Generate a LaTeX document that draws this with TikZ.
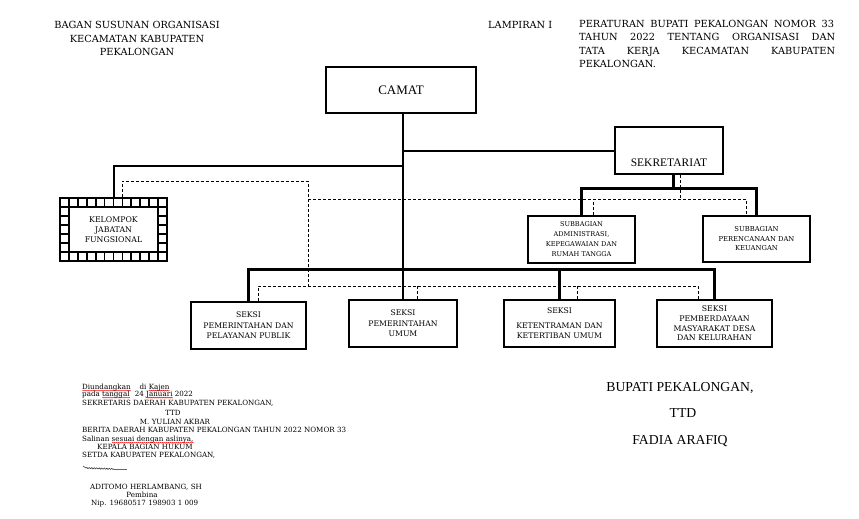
\documentclass[tikz,border=0pt]{standalone}
\usepackage{fontspec}
\setmainfont{Liberation Serif}
\newfontfamily\bk{DejaVu Serif}
\usetikzlibrary{decorations.pathmorphing}
\newcommand\smtxt{\bk\fontsize{7.15}{8}\selectfont}
\newcommand\hdtxt{\bk\fontsize{9.8}{13.5}\selectfont}
\newlength\sqlen
\newcommand\sqw[1]{\settowidth\sqlen{#1}\rlap{\raisebox{-0.3pt}{\tikz[baseline=0pt]\draw[red, line width=0.45pt, decorate, decoration={snake, amplitude=0.5pt, segment length=2pt}] (0pt,-0.6pt) -- (\sqlen,-0.6pt);}}#1}
\begin{document}
\begin{tikzpicture}[x=1pt,y=-1pt,
  box/.style={draw, line width=2pt, inner sep=1pt, align=center, font=\bk\fontsize{7.7}{10.5}\selectfont},
  bus/.style={line width=3pt},
  conn/.style={line width=2pt},
  dotline/.style={line width=0.9pt, dash pattern=on 3pt off 2pt},
  txt/.style={inner sep=0pt, text depth=0pt}]
\useasboundingbox[fill=white] (0,0) rectangle (859,519);

% header
\node[txt, font=\hdtxt, align=center] (hdl) at (137,38.5) {BAGAN SUSUNAN ORGANISASI\\KECAMATAN KABUPATEN\\PEKALONGAN};
\node[txt, font=\hdtxt, anchor=west] (lamp) at (488,25) {LAMPIRAN I};
\node[txt, font=\hdtxt, anchor=north west, align=left] (perb) at (579,20) {%
\makebox[255pt][s]{PERATURAN BUPATI PEKALONGAN NOMOR 33}\\
\makebox[256pt][s]{TAHUN 2022 TENTANG ORGANISASI DAN}\\
\makebox[256pt][s]{TATA KERJA KECAMATAN KABUPATEN}\\
PEKALONGAN.};

% boxes
\node[box, minimum width=150pt, minimum height=46pt, font=\fontsize{13}{15}\selectfont] (camat) at (401,90) {CAMAT};
\node[box, minimum width=108pt, minimum height=47pt,
  label={[yshift=-12.5pt, font=\fontsize{11.5}{13}\selectfont]center:SEKRETARIAT}] (sekr) at (669,150.5) {};
\node[box, minimum width=107pt, minimum height=63pt, font=\bk\fontsize{7.8}{10.3}\selectfont] (kel) at (113.5,229.5) {KELOMPOK\\JABATAN\\FUNGSIONAL};
\node[box, minimum width=107pt, minimum height=47pt, font=\bk\fontsize{6.6}{10}\selectfont] (admin) at (581.5,239.5) {SUBBAGIAN\\ADMINISTRASI,\\KEPEGAWAIAN DAN\\RUMAH TANGGA};
\node[box, minimum width=107pt, minimum height=46pt, font=\bk\fontsize{6.8}{9.5}\selectfont] (renc) at (756.5,239) {SUBBAGIAN\\PERENCANAAN DAN\\KEUANGAN};
\node[box, minimum width=115pt, minimum height=47pt] (s1) at (248.5,325.5) {SEKSI\\PEMERINTAHAN DAN\\PELAYANAN PUBLIK};
\node[box, minimum width=108pt, minimum height=47pt] (s2) at (403,323.5) {SEKSI\\PEMERINTAHAN\\UMUM};
\node[box, minimum width=111pt, minimum height=47pt] (s3) at (559.5,323.5) {\raisebox{4pt}{SEKSI}\\KETENTRAMAN DAN\\KETERTIBAN UMUM};
\node[box, minimum width=115pt, minimum height=47pt, font=\bk\fontsize{7.8}{9.7}\selectfont] (s4) at (714.5,323.5) {SEKSI\\PEMBERDAYAAN\\MASYARAKAT DESA\\DAN KELURAHAN};

% kelompok border pattern
\draw[line width=1.5pt] (69,207) rectangle (158,252);
\foreach \k in {1,...,11}{
  \draw[line width=1.8pt] ({60+\k*107/12},198) -- ({60+\k*107/12},207);
  \draw[line width=1.8pt] ({60+\k*107/12},252) -- ({60+\k*107/12},261);
}
\foreach \yy in {207,216,225,234,243,252}{
  \draw[line width=1.8pt] (60,\yy) -- (69,\yy);
  \draw[line width=1.8pt] (158,\yy) -- (167,\yy);
}

% solid connectors
\coordinate (kj) at (403,166);
\coordinate (sb) at (673,188);
\draw[conn] (camat.south -| s2.north) -- (s2.north);
\draw[conn] (sekr.west) -- (sekr.west -| s2.north);
\draw[conn] (kel.north) |- (kj);
\draw[bus] (s1.north) -- ++(0,-32) -| (s4.north);
\draw[bus] (s3.north) -- (s3.north |- 0,270);
\draw[bus] (sekr.south -| sb) -- (sb);
\draw[bus] (admin.north) |- (sb) -| (renc.north);

% dashed connectors
\coordinate (dtop) at (308,181);
\coordinate (dA) at (308,199);
\coordinate (dB) at (308,286);
\draw[dotline] ([xshift=8.5pt]kel.north) |- (dtop) -- (dB);
\draw[dotline] (dA) -| ([xshift=-10.5pt]renc.north);
\draw[dotline] ([xshift=11pt]sekr.south) -- ([xshift=11pt]sekr.south |- dA);
\draw[dotline] ([xshift=11.5pt]admin.north) -- ([xshift=11.5pt]admin.north |- dA);
\draw[dotline] ([xshift=9.5pt]s1.north) |- ([xshift=-16.5pt]s4.north |- dB) -- ([xshift=-16.5pt]s4.north);
\draw[dotline] ([xshift=14pt]s2.north) -- ([xshift=14pt]s2.north |- dB);
\draw[dotline] ([xshift=17.5pt]s3.north) -- ([xshift=17.5pt]s3.north |- dB);

% signature block right
\node[txt, font=\fontsize{13.7}{15}\selectfont] (bup) at (680,387) {BUPATI PEKALONGAN,};
\node[txt, font=\fontsize{13.7}{15}\selectfont] (ttd2) at (683,413) {TTD};
\node[txt, font=\fontsize{13.7}{15}\selectfont] (fad) at (680,440) {FADIA ARAFIQ};

% bottom left block
\node[txt, font=\smtxt, anchor=west] (l1) at (82,387) {\sqw{Diundangkan}\hspace{9pt}di \sqw{Kajen}};
\node[txt, font=\smtxt, anchor=west] (l2) at (82,394) {pada \sqw{tanggal}\hspace{3pt} 24 \sqw{Januari} 2022};
\node[txt, font=\smtxt, anchor=west] (l3) at (82,403) {SEKRETARIS DAERAH KABUPATEN PEKALONGAN,};
\node[txt, font=\smtxt] (l4) at (173,413) {TTD};
\node[txt, font=\smtxt] (l5) at (175,422) {M. YULIAN AKBAR};
\node[txt, font=\smtxt, anchor=west] (l6) at (82,430) {BERITA DAERAH KABUPATEN PEKALONGAN TAHUN 2022 NOMOR 33};
\node[txt, font=\smtxt, anchor=west] (l7) at (82,439) {Salinan \sqw{sesuai dengan aslinya,}};
\node[txt, font=\smtxt, anchor=west] (l8) at (97,447) {KEPALA BAGIAN HUKUM};
\node[txt, font=\smtxt, anchor=west] (l9) at (82,455) {SETDA KABUPATEN PEKALONGAN,};
\node[txt, font=\smtxt, anchor=west] (l10) at (90,487) {ADITOMO HERLAMBANG, SH};
\node[txt, font=\smtxt] (l11) at (142,495) {Pembina};
\node[txt, font=\smtxt, anchor=west] (l12) at (91,503) {Nip. 19680517 198903 1 009};

% signature scribble
\draw[black!75, line width=0.6pt] (83,466) -- (86,468);
\draw[black!75, line width=0.6pt, decorate, decoration={snake, amplitude=0.6pt, segment length=2.5pt}] (86,468) -- (114,469);
\draw[black!60, line width=0.5pt] (114,469) -- (127,469);
\end{tikzpicture}
\end{document}
